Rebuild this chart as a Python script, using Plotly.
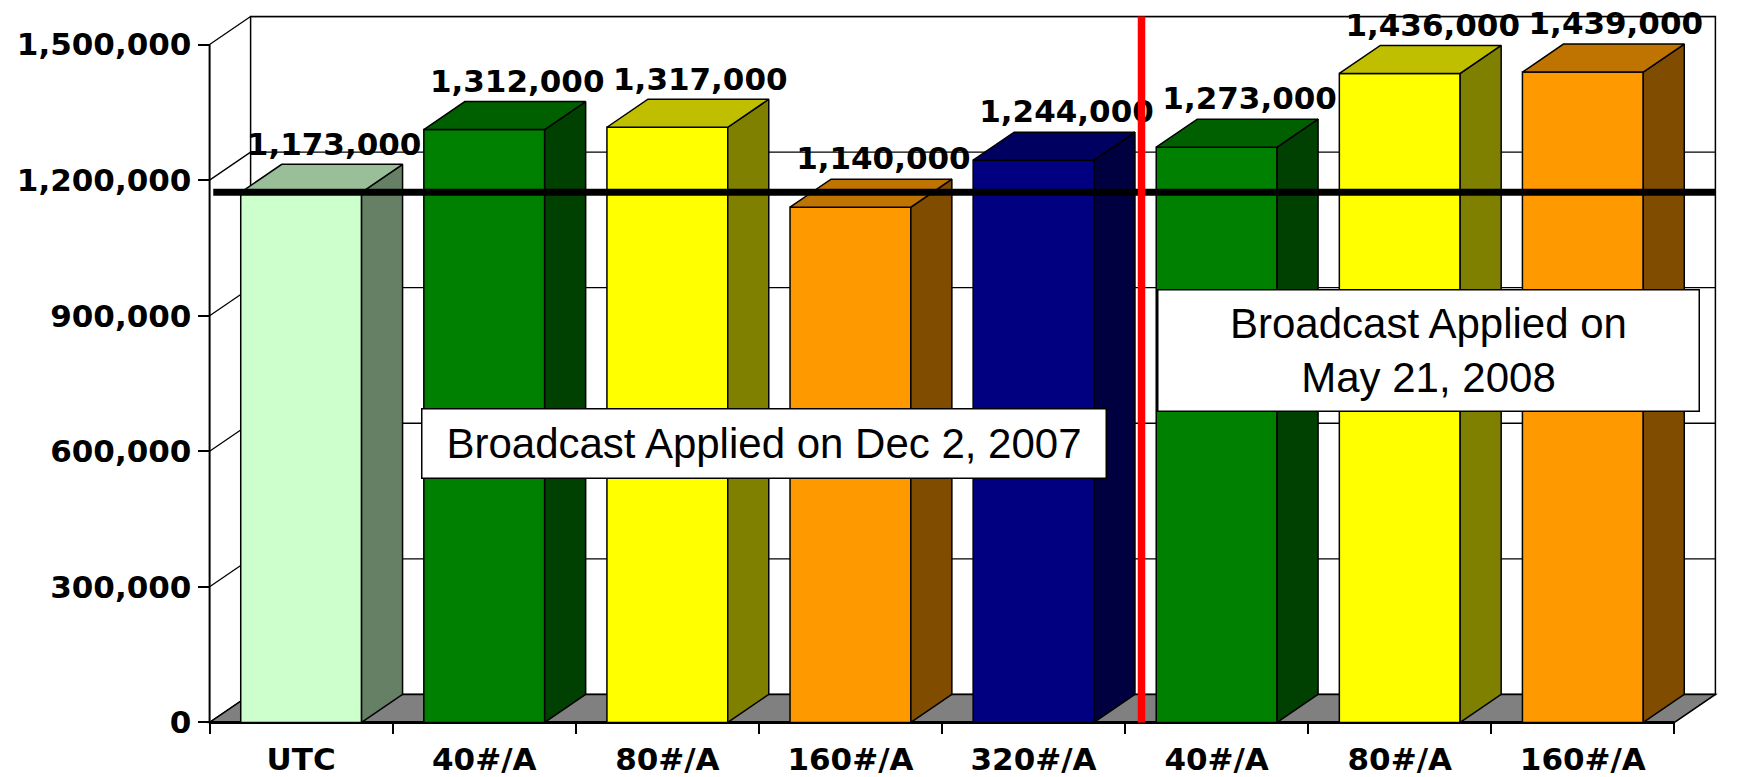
import plotly.graph_objects as go

# ---- data -----------------------------------------------------------------
categories = ["UTC", "40#/A", "80#/A", "160#/A", "320#/A", "40#/A", "80#/A", "160#/A"]
values = [1173000, 1312000, 1317000, 1140000, 1244000, 1273000, 1436000, 1439000]
bar_colors = ["#CCFFCC", "#008000", "#FFFF00", "#FF9900",
              "#000080", "#008000", "#FFFF00", "#FF9900"]
y_ticks = [0, 300000, 600000, 900000, 1200000, 1500000]
y_tick_labels = ["0", "300,000", "600,000", "900,000", "1,200,000", "1,500,000"]
y_max = 1500000
notes = ["Broadcast Applied on Dec 2, 2007",
         "Broadcast Applied on<br>May 21, 2008"]

# ---- page geometry (pixels, measured on the page) -------------------------
W, H = 1748, 777
ML, MR, MT, MB = 195, 25, 8, 45
X_FRONT_PX = 209.6         # front y-axis
Y_ZERO_PX = 722.4          # front baseline
PX_PER_CAT = 183.1
PX_PER_VAL = 451.9e-6
DX = 41 / PX_PER_CAT       # 3-D depth offset in category units
DY = 28 / PX_PER_VAL       # ... and in value units
BAR_W = 0.66
n = len(categories)


def px_to_x(px):
    return -0.5 + (px - X_FRONT_PX) / PX_PER_CAT


def px_to_y(py):
    return (Y_ZERO_PX - py) / PX_PER_VAL


def shade(hexcol, f):
    r, g, b = (int(hexcol[i:i + 2], 16) for i in (1, 3, 5))
    return "#%02X%02X%02X" % (round(r * f), round(g * f), round(b * f))


BOLD = dict(family="DejaVu Sans", size=31, color="black", weight="bold")
x_left, x_right = -0.5, n - 0.5

fig = go.Figure()

# ---- walls, floor, grid (shapes below traces) --------------------------------
shapes = []
shapes.append(dict(type="rect", layer="below", x0=x_left + DX, x1=x_right + DX,
                   y0=DY, y1=y_max + DY, fillcolor="white",
                   line=dict(color="black", width=1.5)))
for t in y_ticks:
    shapes.append(dict(type="line", layer="below", x0=x_left + DX, x1=x_right + DX,
                       y0=t + DY, y1=t + DY, line=dict(color="black", width=1.3)))
    shapes.append(dict(type="line", layer="below", x0=x_left, x1=x_left + DX,
                       y0=t, y1=t + DY, line=dict(color="black", width=1.3)))
floor = (f"M{x_left},0 L{x_right},0 L{x_right + DX},{DY} "
         f"L{x_left + DX},{DY} Z")
shapes.append(dict(type="path", layer="below", path=floor, fillcolor="#808080",
                   line=dict(color="black", width=1.5)))
shapes.append(dict(type="line", layer="below", x0=x_left, x1=x_left,
                   y0=0, y1=y_max, line=dict(color="black", width=2)))
shapes.append(dict(type="line", layer="below", x0=x_left, x1=x_right,
                   y0=0, y1=0, line=dict(color="black", width=3)))

# ---- bars: front faces ---------------------------------------------------------
fig.add_trace(go.Bar(x=list(range(n)), y=values, width=BAR_W,
                     marker=dict(color=bar_colors,
                                 line=dict(color="black", width=1.5)),
                     hoverinfo="skip", showlegend=False))

# side and top faces
for i, (v, c) in enumerate(zip(values, bar_colors)):
    xl, xr = i - BAR_W / 2, i + BAR_W / 2
    fig.add_trace(go.Scatter(
        x=[xr, xr + DX, xr + DX, xr, xr], y=[0, DY, v + DY, v, 0],
        mode="lines", fill="toself", fillcolor=shade(c, 0.5),
        line=dict(color="black", width=1.5), hoverinfo="skip", showlegend=False))
    fig.add_trace(go.Scatter(
        x=[xl, xr, xr + DX, xl + DX, xl], y=[v, v, v + DY, v + DY, v],
        mode="lines", fill="toself", fillcolor=shade(c, 0.75),
        line=dict(color="black", width=1.5), hoverinfo="skip", showlegend=False))

# reference level (UTC)
fig.add_trace(go.Scatter(x=[-0.48, x_right + DX], y=[values[0], values[0]],
                         mode="lines", line=dict(color="black", width=7),
                         hoverinfo="skip", showlegend=False))

# value labels
fig.add_trace(go.Scatter(x=[i + 0.18 for i in range(n)],
                         y=[v + DY + 2 / PX_PER_VAL for v in values],
                         mode="text", text=[f"{v:,}" for v in values],
                         textposition="top center", textfont=BOLD,
                         cliponaxis=False, hoverinfo="skip", showlegend=False))

# split between the two broadcast dates
xs = 4.5 + 0.4 * DX
fig.add_trace(go.Scatter(x=[xs, xs], y=[0, y_max + DY], mode="lines",
                         line=dict(color="#FF0000", width=7.5),
                         hoverinfo="skip", showlegend=False))

# ---- note boxes ----------------------------------------------------------------
box_font = dict(family="Liberation Sans, Arial, sans-serif", size=42, color="black")
fig.add_annotation(x=px_to_x(764), y=px_to_y(443.8), xref="x", yref="y",
                   text=notes[0], showarrow=False, font=box_font,
                   bgcolor="white", bordercolor="black", borderwidth=1.5,
                   borderpad=8, width=667, height=52,
                   xanchor="center", yanchor="middle")
fig.add_annotation(x=px_to_x(1428.3), y=px_to_y(350.3), xref="x", yref="y",
                   text=notes[1], showarrow=False, font=box_font,
                   bgcolor="white", bordercolor="black", borderwidth=1.5,
                   borderpad=8, width=524, height=104,
                   xanchor="center", yanchor="middle")

plot_w, plot_h = W - ML - MR, H - MT - MB
fig.update_layout(
    template="none", width=W, height=H, shapes=shapes, showlegend=False,
    margin=dict(l=ML, r=MR, t=MT, b=MB),
    paper_bgcolor="white", plot_bgcolor="white",
    xaxis=dict(range=[px_to_x(ML), px_to_x(W - MR)], anchor="free",
               position=(H - MB - Y_ZERO_PX) / plot_h,
               tickmode="array", tickvals=list(range(n)), ticktext=categories,
               ticks="", showgrid=False, zeroline=False, showline=False,
               tickfont=BOLD, ticklabelstandoff=16,
               minor=dict(tickmode="array",
                          tickvals=[k - 0.5 for k in range(n + 1)],
                          ticks="outside", ticklen=11, tickwidth=2,
                          tickcolor="black", showgrid=False)),
    yaxis=dict(range=[px_to_y(H - MB), px_to_y(MT)], anchor="free",
               position=(X_FRONT_PX - ML) / plot_w,
               tickmode="array", tickvals=y_ticks, ticktext=y_tick_labels,
               ticks="outside", ticklen=12, tickwidth=2, tickcolor="black",
               showgrid=False, zeroline=False, showline=False, tickfont=BOLD),
)

# the page's default body margin would shift the chart by 8px
fig.write_html("out.html", config={"displayModeBar": False},
               post_script="document.body.style.margin = '0px';")
